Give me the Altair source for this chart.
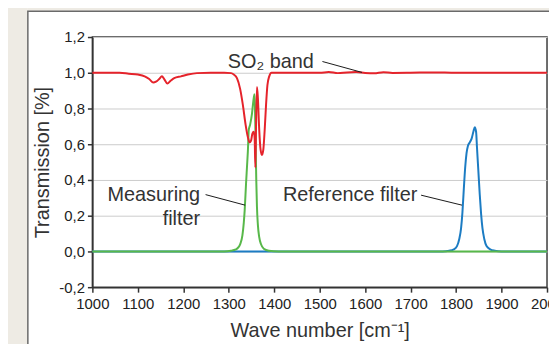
import altair as alt
import pandas as pd

# ---- data ----
red_x = [1000, 1060, 1080, 1100, 1115, 1125, 1134, 1140, 1147, 1153, 1158, 1165, 1172, 1180,
         1195, 1210, 1230, 1260, 1290, 1305, 1311, 1318, 1325, 1331, 1337, 1342, 1346, 1349,
         1352, 1355, 1357, 1358.5, 1360, 1362, 1364, 1367, 1370, 1373, 1376, 1379, 1382, 1385,
         1389, 1394, 1405, 1450, 1500, 1520, 1540, 1560, 1580, 1600, 1620, 1640, 1660, 1700,
         1750, 1800, 1900, 2000]
red_y = [1.0, 1.0, 0.995, 0.99, 0.98, 0.965, 0.945, 0.95, 0.965, 0.98, 0.965, 0.94, 0.955, 0.97,
         0.98, 0.99, 0.998, 1.0, 1.0, 0.998, 0.99, 0.97, 0.91, 0.82, 0.71, 0.64, 0.61, 0.62,
         0.66, 0.67, 0.63, 0.47, 0.70, 0.92, 0.86, 0.68, 0.57, 0.54, 0.57, 0.68, 0.82, 0.93,
         0.98, 1.0, 1.0, 1.0, 1.0, 1.004, 0.998, 1.002, 1.004, 0.999, 0.997, 1.003, 0.999, 1.0,
         1.002, 1.0, 1.0, 1.0]

green_x = [1000, 1290, 1305, 1312, 1318, 1325, 1330, 1333, 1335, 1338, 1340, 1342, 1344, 1347,
           1351, 1354, 1356.5, 1357.5, 1359, 1360.5, 1362, 1364, 1367, 1371, 1377, 1388, 1410, 2000]
green_y = [0.0, 0.0, 0.004, 0.008, 0.015, 0.04, 0.09, 0.16, 0.23, 0.38, 0.47, 0.56, 0.68, 0.71,
           0.77, 0.84, 0.88, 0.82, 0.62, 0.40, 0.25, 0.15, 0.08, 0.04, 0.015, 0.004, 0.0, 0.0]

blue_x = [1000, 1770, 1785, 1795, 1802, 1807, 1811, 1814, 1817, 1820, 1823, 1826, 1830, 1834,
          1838, 1841, 1844, 1846, 1849, 1852, 1855, 1858, 1862, 1867, 1875, 1885, 1900, 2000]
blue_y = [0.0, 0.0, 0.004, 0.012, 0.03, 0.07, 0.13, 0.22, 0.35, 0.47, 0.55, 0.59, 0.61, 0.63,
          0.67, 0.695, 0.67, 0.58, 0.45, 0.32, 0.21, 0.13, 0.07, 0.03, 0.012, 0.004, 0.0, 0.0]

ann_text = ["SO\u2082 band", "Measuring", "filter", "Reference filter"]
ann_x = [1298, 1237, 1237, 1715]
ann_y = [1.06, 0.317, 0.18, 0.317]
ann_align = ["left", "right", "right", "right"]

lead_x = [1506, 1249, 1723]
lead_y = [1.063, 0.318, 0.315]
lead_x2 = [1593, 1336, 1813]
lead_y2 = [1.002, 0.259, 0.259]

x_ticks = list(range(1000, 2001, 100))
y_ticks = [-0.2, 0.0, 0.2, 0.4, 0.6, 0.8, 1.0, 1.2]

FONT = "Liberation Sans"
RED, GREEN, BLUE = "#e5232b", "#58b84a", "#1c7cc3"
BEIGE = "#eeebe4"

x_scale = alt.Scale(domain=[1000, 2000], nice=False)
y_scale = alt.Scale(domain=[-0.2, 1.2], nice=False)

x_axis = alt.Axis(values=x_ticks, tickCount=30, title="Wave number [cm\u207b\u00b9]", grid=False,
                  tickSize=5, labelPadding=4, titlePadding=10, format="d",
                  labelOverlap=False, labelFlush=False, labelBound=False)
y_axis = alt.Axis(values=y_ticks, tickCount=30, title="Transmission [%]", grid=True,
                  tickSize=5, labelPadding=3, titlePadding=6,
                  labelOverlap=False, labelFlush=False, labelBound=False,
                  labelExpr="replace(replace(format(datum.value, '.1f'), '.', ','), '\u2212', '-')")


def enc_xy(ch):
    return ch.encode(
        x=alt.X("x:Q", scale=x_scale, axis=x_axis),
        y=alt.Y("y:Q", scale=y_scale, axis=y_axis),
    )


one = pd.DataFrame({"a": [0]})

# decorative page frame (outside the plot area)
beige_left = alt.Chart(one).mark_rect(color=BEIGE).encode(
    x=alt.value(-100), x2=alt.value(-65), y=alt.value(-40), y2=alt.value(340))
beige_top = alt.Chart(one).mark_rect(color=BEIGE).encode(
    x=alt.value(-65), x2=alt.value(520), y=alt.value(-40), y2=alt.value(-26))
frame = alt.Chart(one).mark_rect(fillOpacity=0, stroke="#6a6a6a", strokeWidth=1.5).encode(
    x=alt.value(-65), x2=alt.value(520), y=alt.value(-26), y2=alt.value(340))

blue = enc_xy(alt.Chart(pd.DataFrame({"x": blue_x, "y": blue_y})).mark_line(
    color=BLUE, strokeWidth=2, interpolate="monotone"))
green = enc_xy(alt.Chart(pd.DataFrame({"x": green_x, "y": green_y})).mark_line(
    color=GREEN, strokeWidth=2, interpolate="monotone"))
red = enc_xy(alt.Chart(pd.DataFrame({"x": red_x, "y": red_y})).mark_line(
    color=RED, strokeWidth=2, interpolate="monotone"))

leads = alt.Chart(pd.DataFrame({"x": lead_x, "y": lead_y, "x2": lead_x2, "y2": lead_y2})).mark_rule(
    color="#1a1a1a", strokeWidth=1).encode(
    x=alt.X("x:Q", scale=x_scale), y=alt.Y("y:Q", scale=y_scale), x2="x2:Q", y2="y2:Q")

ann_df = pd.DataFrame({"x": ann_x, "y": ann_y, "t": ann_text, "al": ann_align})
texts = []
for al in ["left", "right"]:
    texts.append(alt.Chart(ann_df[ann_df["al"] == al]).mark_text(
        align=al, baseline="middle", fontSize=20, font=FONT, color="#333333").encode(
        x=alt.X("x:Q", scale=x_scale), y=alt.Y("y:Q", scale=y_scale), text="t:N"))

chart = alt.layer(beige_left, beige_top, frame, blue, green, red, leads, *texts).properties(
    width=458, height=252,
    autosize=alt.AutoSizeParams(type="none"),
    padding={"left": 85, "top": 28, "right": 2, "bottom": 56},
    background="white",
).configure_view(
    stroke="#3c3c3c", strokeWidth=1.5
).configure_axis(
    labelFont=FONT, titleFont=FONT, labelFontSize=15, titleFontSize=20,
    labelColor="#222222", titleColor="#333333", titleFontWeight="normal",
    domainColor="#333333", domainWidth=1.5, tickColor="#333333", tickWidth=1.5,
    gridColor="#cccccc", gridWidth=1,
)

chart.save("out.html", embed_options={"renderer": "svg", "actions": False})
